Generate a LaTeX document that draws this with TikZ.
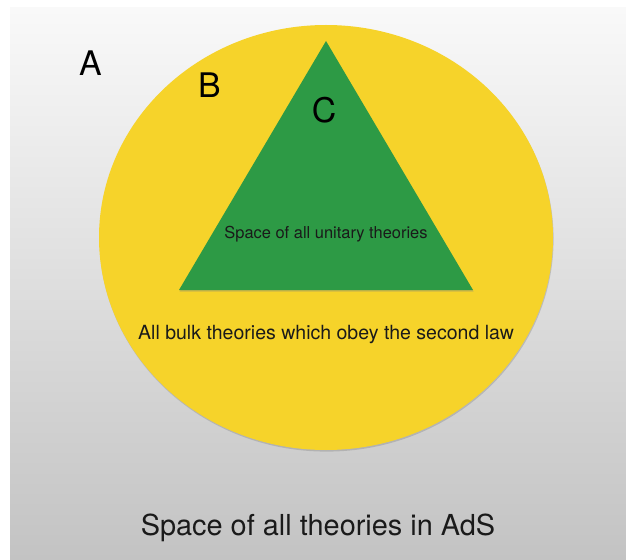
\documentclass[tikz,border=0pt]{standalone}
\usepackage{fontspec}
\setmainfont{TeX Gyre Heros}
\usetikzlibrary{shadows,shapes.geometric}
\definecolor{bgtop}{HTML}{F9F9F9}
\definecolor{bgbot}{HTML}{C3C3C3}
\definecolor{setyellow}{HTML}{F6D32A}
\definecolor{setgreen}{HTML}{2D9A45}
\definecolor{labelink}{HTML}{1A1A1A}
\tikzset{
  setlabel/.style={inner sep=0pt, text=black, font=\fontsize{34}{34}\selectfont},
  innerlabel/.style={inner sep=0pt, text=labelink},
  softshadow/.style={drop shadow={shadow xshift=0.6bp, shadow yshift=-1.6bp, opacity=0.35}}
}
\begin{document}
\begin{tikzpicture}[x=1bp,y=-1bp]
\useasboundingbox (0,0) rectangle (626,560);
\fill[white] (0,0) rectangle (626,560);
\shade[top color=bgtop, bottom color=bgbot] (10,8) rectangle (626,560);
% set B
\fill[setyellow, softshadow] (326,237.5) ellipse [x radius=227, y radius=212.5];
% set C
\fill[setgreen, softshadow] (326,41) -- (179,290) -- (473,290) -- cycle;
\node[setlabel] (A) at (90.5,63) {A};
\node[setlabel] (B) at (209.5,85.5) {B};
\node[setlabel] (C) at (324,110) {C};
\node[innerlabel, font=\fontsize{16.5}{16.5}\selectfont] (unitary) at (326,234.5) {Space of all unitary theories};
\node[innerlabel, font=\fontsize{19.6}{19.6}\selectfont] (bulk) at (326,335) {All bulk theories which obey the second law};
\node[inner sep=0pt, text=labelink, font=\fontsize{29}{29}\selectfont] (ads) at (318,528) {Space of all theories in AdS};
\end{tikzpicture}
\end{document}
